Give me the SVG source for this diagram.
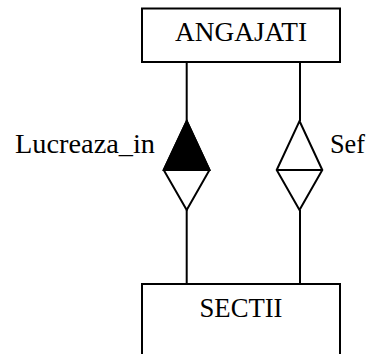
<svg xmlns="http://www.w3.org/2000/svg" width="367" height="354" viewBox="0 0 367 354">
<style>
.box{fill:#fff;stroke:#000;stroke-width:2}
.ln{stroke:#000;stroke-width:2;fill:none}
.dia{stroke:#000;stroke-width:2;fill:#fff;stroke-linejoin:miter}
text{font-family:"Liberation Serif","Times New Roman",serif;font-size:26.5px;fill:#000}
</style>
<rect width="367" height="354" fill="#fff"/>
<g id="connectors">
<line class="ln" x1="186.7" y1="62" x2="186.7" y2="121"/>
<line class="ln" x1="186.7" y1="210" x2="186.7" y2="284"/>
<line class="ln" x1="300" y1="62" x2="300" y2="121"/>
<line class="ln" x1="300" y1="210" x2="300" y2="284"/>
</g>
<g id="ANGAJATI">
<rect class="box" x="142" y="8.5" width="198" height="53.5"/>
<text x="175" y="40.7" textLength="132" lengthAdjust="spacingAndGlyphs">ANGAJATI</text>
</g>
<g id="SECTII">
<rect class="box" x="142" y="284" width="198" height="80"/>
<text x="199.5" y="316.7" textLength="83" lengthAdjust="spacingAndGlyphs">SECTII</text>
</g>
<g id="Lucreaza_in">
<polygon class="dia" points="186.7,121 209.5,170 186.7,210 163.7,170"/>
<polygon points="186.7,121 209.5,170 163.7,170" fill="#000" stroke="#000" stroke-width="2" stroke-linejoin="miter"/>
<text x="15" y="153.3" textLength="140" lengthAdjust="spacingAndGlyphs">Lucreaza_in</text>
</g>
<g id="Sef">
<polygon class="dia" points="299.5,121 322.3,170 299.5,210 276.7,170"/>
<line class="ln" x1="276.7" y1="170" x2="322.3" y2="170"/>
<text x="330" y="153.3" textLength="35" lengthAdjust="spacingAndGlyphs">Sef</text>
</g>
</svg>
